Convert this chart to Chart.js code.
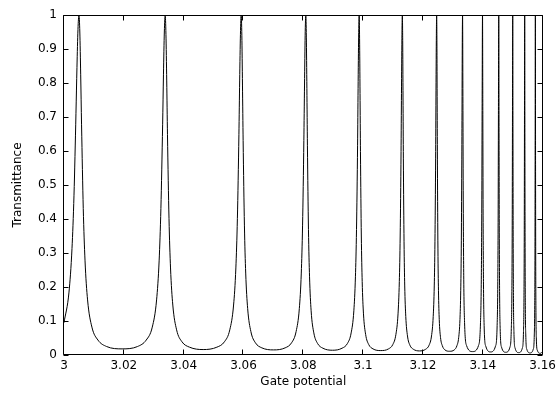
<!DOCTYPE html>
<html><head><meta charset="utf-8">
<script src="https://cdn.jsdelivr.net/npm/chart.js@4"></script>
<style>html,body{margin:0;padding:0;background:#fff}</style>
</head><body>
<canvas id="c" width="560" height="398"></canvas>
<script>
const gatePotential = [
3.00000,3.00167,3.00267,3.00334,3.00400,3.00433,3.00467,3.00500,
3.00529,3.00558,3.00587,3.00644,3.00702,3.00788,3.00933,3.01134,3.01423,3.01942,3.02460,3.02749,3.02951,3.03095,3.03181,3.03239,3.03297,3.03325,3.03354,3.03383,
3.03408,3.03434,3.03459,3.03510,3.03561,3.03637,3.03764,3.03942,3.04196,3.04653,3.05110,3.05364,3.05542,3.05669,3.05745,3.05796,3.05847,3.05872,3.05898,3.05923,
3.05945,3.05966,3.05988,3.06031,3.06074,3.06139,3.06247,3.06398,3.06614,3.07003,3.07392,3.07608,3.07759,3.07867,3.07932,3.07975,3.08018,3.08040,3.08061,3.08083,
3.08101,3.08119,3.08137,3.08172,3.08208,3.08261,3.08351,3.08476,3.08654,3.08975,3.09296,3.09475,3.09599,3.09689,3.09742,3.09778,3.09814,3.09831,3.09849,3.09867,
3.09881,3.09896,3.09910,3.09939,3.09968,3.10011,3.10084,3.10185,3.10329,3.10589,3.10848,3.10993,3.11094,3.11166,3.11209,3.11238,3.11267,3.11281,3.11296,3.11310,
3.11322,3.11333,3.11344,3.11367,3.11390,3.11425,3.11482,3.11562,3.11677,3.11884,3.12090,3.12205,3.12285,3.12342,3.12377,3.12400,3.12423,3.12434,3.12446,3.12457,
3.12466,3.12474,3.12483,3.12500,3.12518,3.12544,3.12587,3.12648,3.12734,3.12890,3.13046,3.13133,3.13193,3.13236,3.13262,3.13280,3.13297,3.13306,3.13314,3.13323,
3.13336,3.13346,3.13363,3.13390,3.13456,3.13657,3.13857,3.13923,3.13950,3.13967,3.13977,3.13990,
3.14001,3.14009,3.14023,3.14044,3.14099,3.14262,3.14424,3.14479,3.14500,3.14514,3.14522,3.14533,
3.14542,3.14549,3.14561,3.14580,3.14626,3.14767,3.14907,3.14953,3.14972,3.14984,3.14991,3.15000,
3.15008,3.15014,3.15024,3.15040,3.15080,3.15200,3.15320,3.15360,3.15376,3.15386,3.15392,3.15400,
3.15407,3.15413,3.15421,3.15436,3.15471,3.15579,3.15686,3.15721,3.15736,3.15745,3.15750,3.15757,
3.15763,3.15768,3.15776,3.15789,3.15822,3.15919,3.16000
];
const transmittance = [
0.095,0.185,0.313,0.470,0.711,0.846,0.957,1,
0.950,0.824,0.677,0.431,0.279,0.162,0.082,0.044,0.025,0.018,0.025,0.044,0.082,0.162,0.279,0.431,0.677,0.824,0.950,1,
0.943,0.806,0.649,0.401,0.256,0.147,0.074,0.039,0.023,0.016,0.023,0.039,0.074,0.147,0.256,0.401,0.649,0.806,0.943,1,
0.939,0.794,0.631,0.382,0.241,0.137,0.069,0.036,0.021,0.015,0.021,0.036,0.069,0.137,0.241,0.382,0.631,0.794,0.939,1,
0.935,0.784,0.617,0.369,0.230,0.130,0.065,0.034,0.020,0.014,0.020,0.034,0.065,0.130,0.230,0.369,0.617,0.784,0.935,1,
0.930,0.769,0.598,0.350,0.216,0.121,0.060,0.031,0.018,0.013,0.018,0.031,0.060,0.121,0.216,0.350,0.598,0.769,0.930,1,
0.925,0.756,0.579,0.333,0.203,0.113,0.056,0.029,0.017,0.012,0.017,0.029,0.056,0.113,0.203,0.333,0.579,0.756,0.925,1,
0.918,0.738,0.556,0.312,0.189,0.104,0.051,0.027,0.015,0.011,0.015,0.027,0.051,0.104,0.189,0.312,0.556,0.738,0.918,1,
0.719,0.456,0.223,0.096,0.028,0.010,0.028,0.096,0.223,0.456,0.719,1,
0.697,0.430,0.206,0.087,0.026,0.009,0.026,0.087,0.206,0.430,0.697,1,
0.672,0.401,0.187,0.078,0.023,0.008,0.023,0.078,0.187,0.401,0.672,1,
0.641,0.369,0.167,0.069,0.020,0.007,0.020,0.069,0.167,0.369,0.641,1,
0.604,0.333,0.146,0.059,0.017,0.006,0.017,0.059,0.146,0.333,0.604,1,
0.560,0.294,0.125,0.050,0.014,0.005,0.010
];
const xTickValues = [3,3.02,3.04,3.06,3.08,3.1,3.12,3.14,3.16];
const yTickValues = [0,0.1,0.2,0.3,0.4,0.5,0.6,0.7,0.8,0.9,1];
const xTitle = 'Gate potential';
const yTitle = 'Transmittance';

const FONT = {family:'"DejaVu Sans", sans-serif', size:12};
const fmt = v => String(+Number(v).toFixed(2));

const boxTicks = {
  id:'boxTicks',
  afterDraw(chart){
    const {ctx, chartArea:a, scales:{x,y}} = chart;
    const L = Math.round(a.left)-0.5, R = Math.round(a.right)-0.5;
    const T = Math.round(a.top)+0.5, B = Math.round(a.bottom)-0.5;
    ctx.save();
    ctx.strokeStyle = '#000'; ctx.lineWidth = 1;
    ctx.beginPath();
    ctx.rect(L, T, R-L, B-T);
    x.ticks.forEach(t => {
      const p = Math.round(x.getPixelForValue(t.value))-0.5;
      ctx.moveTo(p, B); ctx.lineTo(p, B-5);
      ctx.moveTo(p, T); ctx.lineTo(p, T+5);
    });
    y.ticks.forEach(t => {
      const p = Math.round(y.getPixelForValue(t.value))+0.5;
      ctx.moveTo(L, p); ctx.lineTo(L+5, p);
      ctx.moveTo(R, p); ctx.lineTo(R-5, p);
    });
    ctx.stroke();
    ctx.restore();
  }
};

new Chart(document.getElementById('c'), {
  type:'line',
  data:{datasets:[{
    data: gatePotential.map((v,i)=>({x:v, y:transmittance[i]})),
    borderColor:'#000', borderWidth:1, pointRadius:0,
    cubicInterpolationMode:'monotone', fill:false
  }]},
  options:{
    responsive:false, animation:false,
    layout:{padding:{left:0, right:17, top:15, bottom:0}},
    plugins:{legend:{display:false}, tooltip:{enabled:false}},
    scales:{
      x:{type:'linear', min:3, max:3.16,
        afterBuildTicks: s => { s.ticks = xTickValues.map(v=>({value:v})); },
        afterFit: s => { s.height = 43; },
        ticks:{callback: v => fmt(v), font:FONT, color:'#000', padding:4, maxRotation:0, autoSkip:false},
        grid:{display:false, drawTicks:false}, border:{display:false},
        title:{display:true, text:xTitle, font:FONT, color:'#000', padding:{top:0,bottom:9}}
      },
      y:{type:'linear', min:0, max:1,
        afterBuildTicks: s => { s.ticks = yTickValues.map(v=>({value:v})); },
        afterFit: s => { s.width = 64; },
        ticks:{callback: v => fmt(v), font:FONT, color:'#000', padding:7, autoSkip:false},
        grid:{display:false, drawTicks:false}, border:{display:false},
        title:{display:true, text:yTitle, font:FONT, color:'#000', padding:{top:11,bottom:0}}
      }
    }
  },
  plugins:[boxTicks]
});
</script>
</body></html>
